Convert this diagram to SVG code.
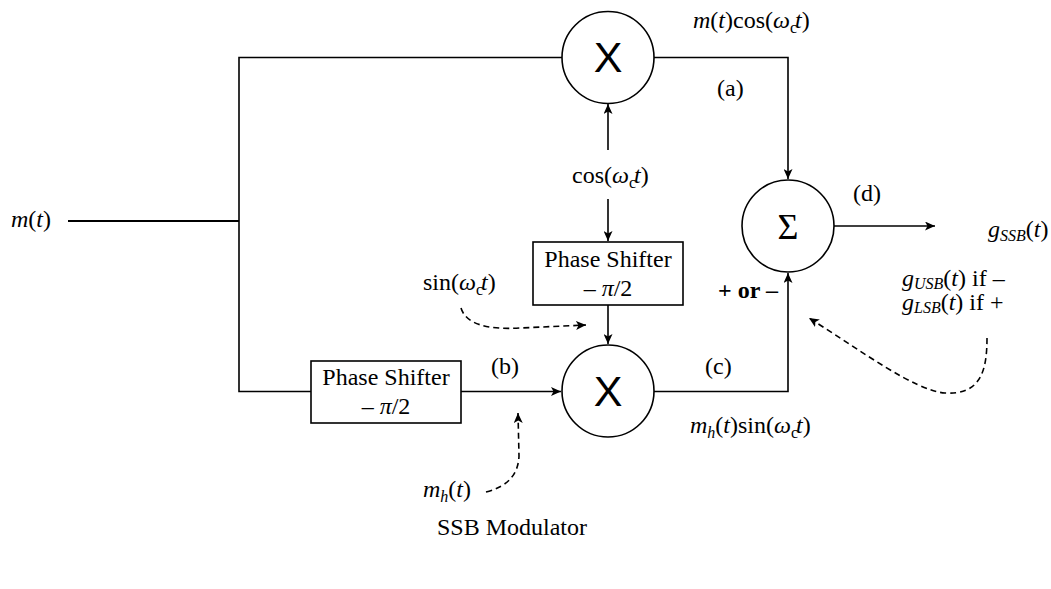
<svg xmlns="http://www.w3.org/2000/svg" width="1051" height="589" viewBox="0 0 1051 589">
<style>
.ln{fill:none;stroke:#000;stroke-width:1.6}
.thick{stroke-width:2.2}
.dash{fill:none;stroke:#000;stroke-width:1.6;stroke-dasharray:6 4}
.blk{fill:#fff;stroke:#000;stroke-width:1.6}
.t{font-family:"Liberation Serif","Times New Roman",serif;font-size:24px;fill:#000}
.i{font-style:italic}
.b{font-weight:bold}
.x{font-family:"Liberation Sans",Arial,sans-serif;font-size:43px;fill:#000;text-anchor:middle}
.sg{font-family:"Liberation Serif","Times New Roman",serif;font-size:36px;fill:#000;text-anchor:middle}
.s{font-size:16px}
.m{text-anchor:middle}
</style>
<defs>
<marker id="ah" markerWidth="11" markerHeight="9" refX="10" refY="4.5" orient="auto" markerUnits="userSpaceOnUse">
<path d="M0,0 L10,4.5 L0,9 L2.5,4.5 z" fill="#000"/>
</marker>
<marker id="ahd" markerWidth="11" markerHeight="9" refX="10" refY="4.5" orient="auto" markerUnits="userSpaceOnUse">
<path d="M0,0 L10,4.5 L0,9 L2.5,4.5 z" fill="#000"/>
</marker>
</defs>

<g id="connectors">
<line class="ln thick" x1="68" y1="221" x2="239" y2="221"/>
<polyline class="ln" points="562,57.5 239,57.5 239,391.5 311,391.5"/>
<polyline class="ln" points="654,57.5 788,57.5 788,179" marker-end="url(#ah)"/>
<line class="ln" x1="608" y1="150" x2="608" y2="104" marker-end="url(#ah)"/>
<line class="ln" x1="608" y1="199" x2="608" y2="241" marker-end="url(#ah)"/>
<line class="ln" x1="608" y1="305" x2="608" y2="344" marker-end="url(#ah)"/>
<line class="ln" x1="461" y1="391.5" x2="561" y2="391.5" marker-end="url(#ah)"/>
<polyline class="ln" points="654,391.5 788,391.5 788,273" marker-end="url(#ah)"/>
<line class="ln" x1="834" y1="226" x2="935" y2="226" marker-end="url(#ah)"/>
<path class="dash" d="M461,308 Q468,331 520,328 L586,325" marker-end="url(#ahd)"/>
<path class="dash" d="M486,492 Q518,484 519,456 L518,413" marker-end="url(#ahd)"/>
<path class="dash" d="M987,338 C987,372 980,395 945,393 C915,391 860,350 809,318" marker-end="url(#ahd)"/>
</g>

<g id="mixer-top">
<circle class="blk" cx="608" cy="57.5" r="46"/>
<text class="x" x="608" y="72">X</text>
</g>
<g id="mixer-bottom">
<circle class="blk" cx="608" cy="391" r="46"/>
<text class="x" x="608" y="406">X</text>
</g>
<g id="summer">
<circle class="blk" cx="788" cy="226" r="46"/>
<text class="sg" x="788" y="239">Σ</text>
</g>
<g id="phase-shifter-carrier">
<rect class="blk" x="533" y="242" width="150" height="63"/>
<text class="t m" x="608" y="267">Phase Shifter</text>
<text class="t m" x="608" y="296">– <tspan class="i">π</tspan>/2</text>
</g>
<g id="phase-shifter-message">
<rect class="blk" x="311" y="361" width="150" height="62"/>
<text class="t m" x="386" y="385">Phase Shifter</text>
<text class="t m" x="386" y="414">– <tspan class="i">π</tspan>/2</text>
</g>

<g id="labels">
<text class="t" x="11" y="227"><tspan class="i">m</tspan>(<tspan class="i">t</tspan>)</text>
<text class="t" x="693" y="28"><tspan class="i">m</tspan>(<tspan class="i">t</tspan>)cos(<tspan class="i">ω</tspan><tspan class="s" dy="5">c</tspan><tspan class="i" dy="-5" dx="-2">t</tspan>)</text>
<text class="t" x="717" y="96">(a)</text>
<text class="t" x="572" y="183">cos(<tspan class="i">ω</tspan><tspan class="s" dy="5">c</tspan><tspan class="i" dy="-5" dx="-2">t</tspan>)</text>
<text class="t" x="853" y="201">(d)</text>
<text class="t" x="988" y="237"><tspan class="i">g</tspan><tspan class="i s" dy="4">SSB</tspan><tspan dy="-4">(</tspan><tspan class="i">t</tspan>)</text>
<text class="t" x="423" y="290">sin(<tspan class="i">ω</tspan><tspan class="s" dy="5">c</tspan><tspan class="i" dy="-5" dx="-2">t</tspan>)</text>
<text class="t b" x="718" y="298">+ or –</text>
<text class="t" x="902" y="286"><tspan class="i">g</tspan><tspan class="i s" dy="3">USB</tspan><tspan dy="-3">(</tspan><tspan class="i">t</tspan>) if –</text>
<text class="t" x="902" y="310"><tspan class="i">g</tspan><tspan class="i s" dy="3">LSB</tspan><tspan dy="-3">(</tspan><tspan class="i">t</tspan>) if +</text>
<text class="t" x="491" y="374">(b)</text>
<text class="t" x="705" y="374">(c)</text>
<text class="t" x="690" y="433"><tspan class="i">m</tspan><tspan class="i s" dy="5">h</tspan><tspan dy="-5">(</tspan><tspan class="i">t</tspan>)sin(<tspan class="i">ω</tspan><tspan class="s" dy="5">c</tspan><tspan class="i" dy="-5" dx="-2">t</tspan>)</text>
<text class="t" x="423" y="497"><tspan class="i">m</tspan><tspan class="i s" dy="5">h</tspan><tspan dy="-5">(</tspan><tspan class="i">t</tspan>)</text>
<text class="t" x="437" y="535">SSB Modulator</text>
</g>
</svg>
